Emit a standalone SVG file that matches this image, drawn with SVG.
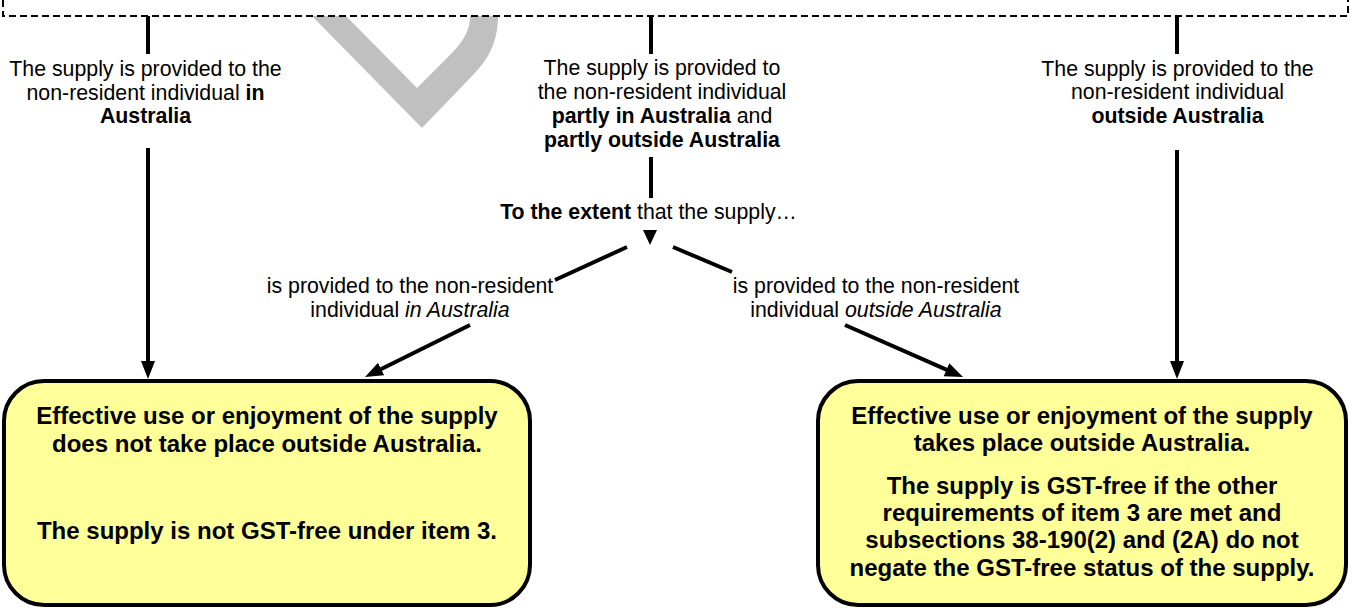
<svg xmlns="http://www.w3.org/2000/svg" width="1352" height="608" viewBox="0 0 1352 608">
<style>
text{font-family:"Liberation Sans",Arial,sans-serif;fill:#000}
.lbl{font-size:21.3px;text-anchor:middle}
.box{fill:#ffff99;stroke:#000;stroke-width:4}
.bt{font-size:24px;font-weight:bold;text-anchor:middle}
.b{font-weight:bold}
.i{font-style:italic}
.ln{stroke:#000;stroke-width:4;fill:none}
</style>
<defs>
<marker id="ah" markerUnits="userSpaceOnUse" markerWidth="18" markerHeight="14" refX="6" refY="7" orient="auto" viewBox="0 0 18 14">
<path d="M0,0 L18,7 L0,14 Z" fill="#000"/>
</marker>
</defs>
<rect width="1352" height="608" fill="#fff"/>
<g id="watermark">
<path d="M312,16 L346,16 L417,88 L450,55 C466,39 470,28 470,16 L498,16 C498,40 490,58 472,76 L422,128 Z" fill="#c0c0c0"/>
</g>
<g id="frame">
<path d="M3,0 L3,16 L1348,16 L1348,0" fill="none" stroke="#000" stroke-width="2" stroke-dasharray="7 4"/>
</g>
<g id="connectors">
<line class="ln" x1="148" y1="16" x2="148" y2="54"/>
<line class="ln" x1="651" y1="16" x2="651" y2="54"/>
<line class="ln" x1="1177" y1="16" x2="1177" y2="54"/>
<line class="ln" x1="148" y1="148" x2="148" y2="367" marker-end="url(#ah)"/>
<line class="ln" x1="1177" y1="150" x2="1177" y2="367" marker-end="url(#ah)"/>
<line class="ln" x1="651" y1="157" x2="651" y2="198"/>
<path d="M643,230 L657,230 L650,245 Z" fill="#000"/>
<line class="ln" x1="627" y1="247" x2="555" y2="280"/>
<line class="ln" x1="673" y1="247" x2="732" y2="272"/>
<line class="ln" x1="470" y1="325" x2="375.8" y2="371.7" marker-end="url(#ah)"/>
<line class="ln" x1="845" y1="325" x2="952" y2="372.2" marker-end="url(#ah)"/>
</g>
<g id="label-in">
<text class="lbl" x="145.5" y="76">The supply is provided to the</text>
<text class="lbl" x="145.5" y="100">non-resident individual <tspan class="b">in</tspan></text>
<text class="lbl b" x="145.5" y="123">Australia</text>
</g>
<g id="label-partly">
<text class="lbl" x="662" y="75">The supply is provided to</text>
<text class="lbl" x="662" y="99">the non-resident individual</text>
<text class="lbl" x="662" y="123"><tspan class="b">partly in Australia</tspan> and</text>
<text class="lbl b" x="662" y="147">partly outside Australia</text>
</g>
<g id="label-outside">
<text class="lbl" x="1177.5" y="76">The supply is provided to the</text>
<text class="lbl" x="1177.5" y="99">non-resident individual</text>
<text class="lbl b" x="1177.5" y="123">outside Australia</text>
</g>
<g id="label-extent">
<text class="lbl" x="648.5" y="219"><tspan class="b">To the extent</tspan> that the supply…</text>
</g>
<g id="label-part-in">
<text class="lbl" x="410" y="293">is provided to the non-resident</text>
<text class="lbl" x="410" y="317">individual <tspan class="i">in Australia</tspan></text>
</g>
<g id="label-part-outside">
<text class="lbl" x="876" y="293">is provided to the non-resident</text>
<text class="lbl" x="876" y="317">individual <tspan class="i">outside Australia</tspan></text>
</g>
<g id="box-not-free">
<rect class="box" x="4" y="381" width="526" height="224" rx="40" ry="40"/>
<text class="bt" x="267" y="424">Effective use or enjoyment of the supply</text>
<text class="bt" x="267" y="451.5">does not take place outside Australia.</text>
<text class="bt" x="267" y="539">The supply is not GST-free under item 3.</text>
</g>
<g id="box-free">
<rect class="box" x="818" y="381" width="528" height="224" rx="40" ry="40"/>
<text class="bt" x="1082" y="424">Effective use or enjoyment of the supply</text>
<text class="bt" x="1082" y="451">takes place outside Australia.</text>
<text class="bt" x="1082" y="494">The supply is GST-free if the other</text>
<text class="bt" x="1082" y="521">requirements of item 3 are met and</text>
<text class="bt" x="1082" y="548">subsections 38-190(2) and (2A) do not</text>
<text class="bt" x="1082" y="576">negate the GST-free status of the supply.</text>
</g>
</svg>
